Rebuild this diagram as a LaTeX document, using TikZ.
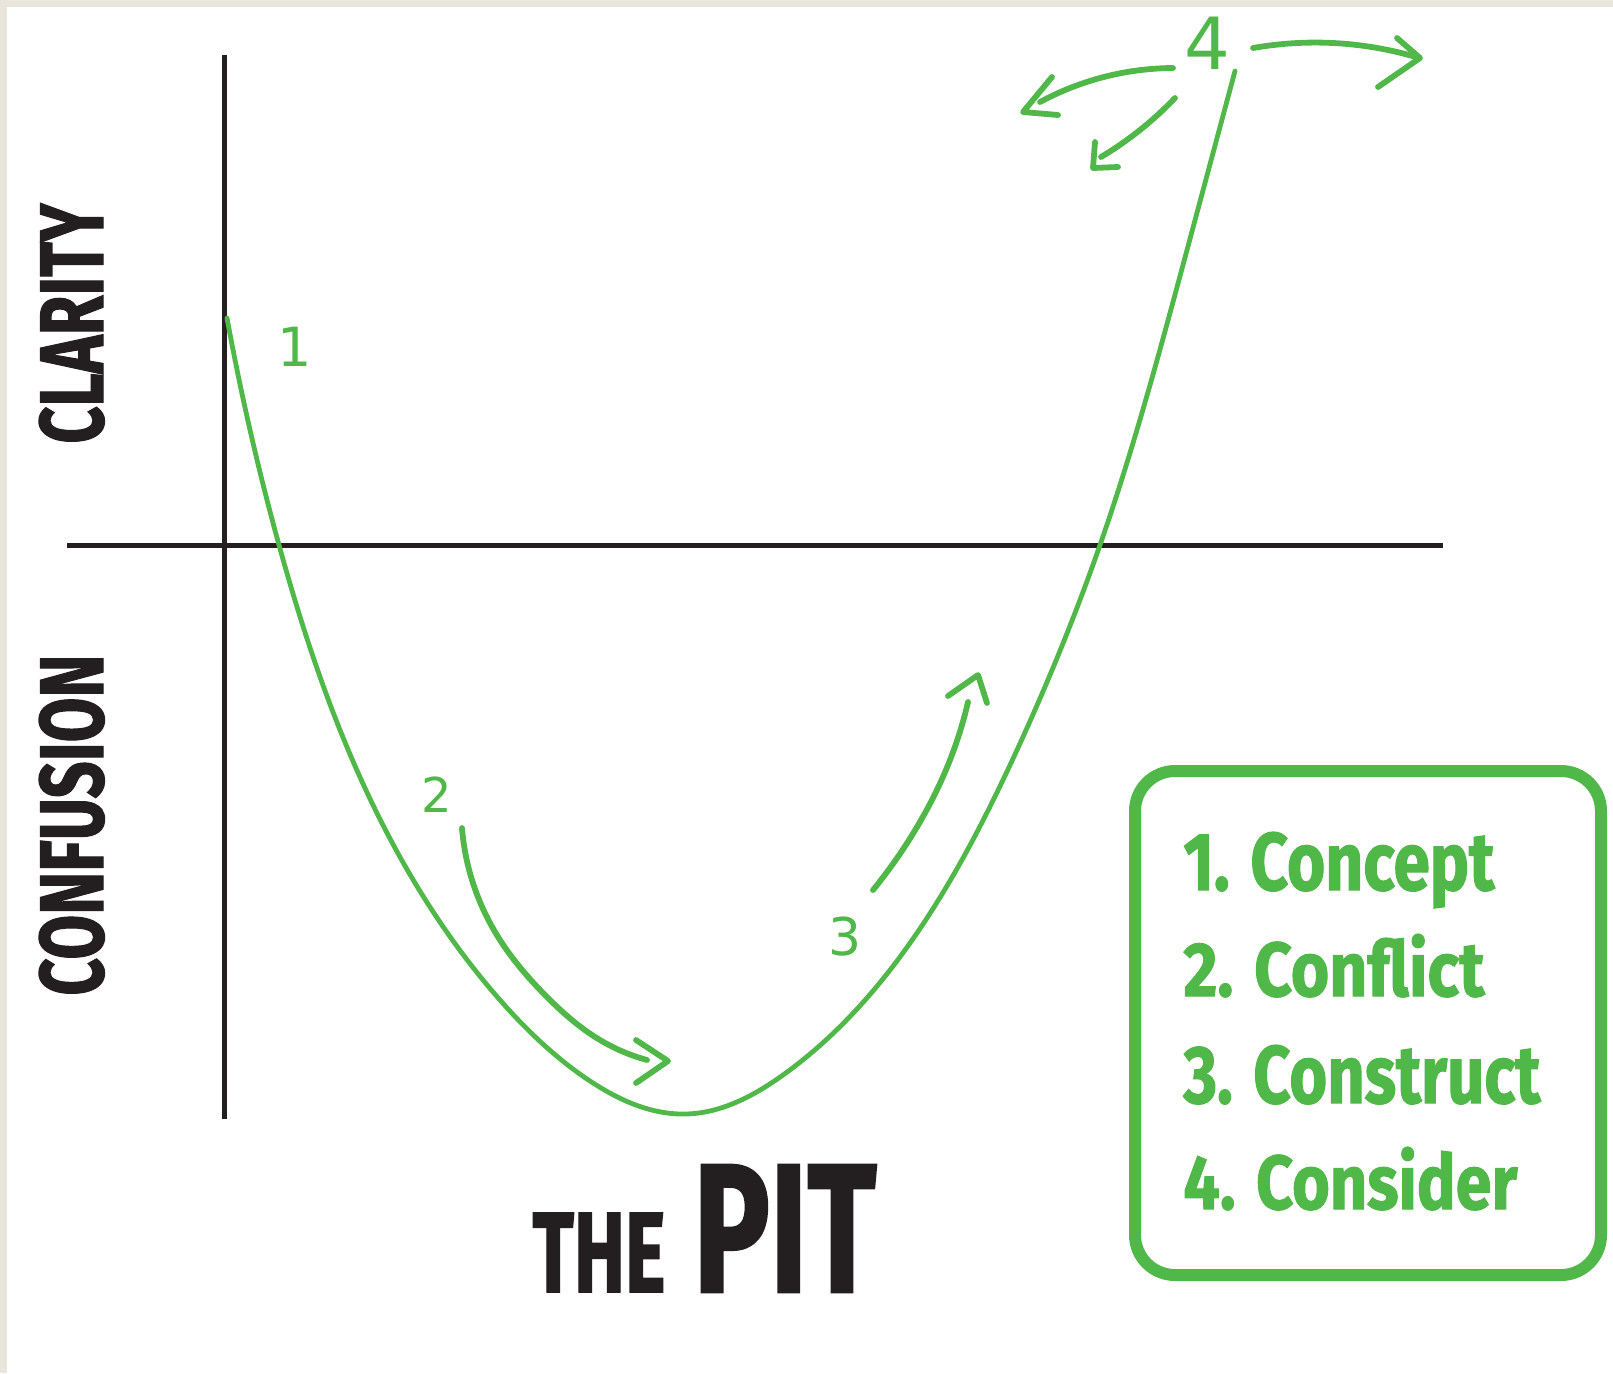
\documentclass[tikz,border=0pt]{standalone}
\usepackage{fontspec}
\usepackage{graphicx}
\usetikzlibrary{hobby}
\newfontfamily\heavyfont[FakeBold=1.5]{Fira Sans Bold}
\newfontfamily\handfont{DejaVu Sans}
\definecolor{pitgreen}{RGB}{80,184,72}
\definecolor{ink}{RGB}{35,31,32}
\definecolor{framebg}{RGB}{233,229,219}
\newcommand{\fitt}[3]{\resizebox{#1}{#2}{#3}}
\begin{document}
\begin{tikzpicture}[x=0.5pt,y=-0.5pt,
  axisline/.style={draw=ink,line width=2.5pt},
  pitcurve/.style={draw=pitgreen,line width=2.4pt,line cap=round},
  handline/.style={draw=pitgreen,line width=2.9pt,line cap=round,line join=round},
  axislabel/.style={text=ink,inner sep=0pt,font=\heavyfont},
  legendtext/.style={text=pitgreen,inner sep=0pt,anchor=base west,font=\heavyfont},
  handnum/.style={text=pitgreen,inner sep=0pt,font=\handfont}]
\useasboundingbox (0,0) rectangle (1613,1373);
\fill[framebg] (0,0) rectangle (1613,1373);
\fill[white] (7,7) rectangle (1613,1373);

% axes
\coordinate (vtop) at (224,55);
\coordinate (vbot) at (224,1119);
\coordinate (hleft) at (67,545);
\coordinate (hright) at (1443,545);
\draw[axisline] (vtop) -- (vbot);
\draw[axisline] (hleft) -- (hright);

% axis labels
\node[axislabel,rotate=90,anchor=base west] (clarity) at (103,444) {\fitt{120pt}{32pt}{CLARITY}};
\node[axislabel,rotate=90,anchor=base west] (confusion) at (103,996) {\fitt{170.5pt}{32pt}{CONFUSION}};
\node[axislabel,anchor=base west] (the) at (532,1292) {\fitt{66.5pt}{39.5pt}{THE}};
\node[axislabel,anchor=base west] (pit) at (693,1292) {\fitt{91.5pt}{63.5pt}{PIT}};

% the pit curve
\coordinate (cstart) at (227,318);
\coordinate (cend) at (1235,71);
\draw[pitcurve] (cstart) to[curve through={(279,545) (400,857) (500,1000) (590,1081) (686,1114) (783,1075) (917,933) (1017,750) (1100,545) (1187,250)}] (cend);

% handwritten numbers
\node[handnum,font=\handfont\fontsize{27}{27}\selectfont] (n1) at (295,347) {1};
\node[handnum,font=\handfont\fontsize{24}{24}\selectfont] (n2) at (437,795) {2};
\node[handnum,font=\handfont\fontsize{26}{26}\selectfont] (n3) at (845,937) {3};
\node[handnum,font=\handfont\fontsize{36}{36}\selectfont] (n4) at (1207,43) {4};

% arrow 2
\coordinate (a2s) at (462,828);
\coordinate (a2e) at (647,1060);
\draw[handline] (a2s) to[curve through={(472,880) (500,940) (545,995) (600,1040)}] (a2e);
\draw[handline] (636,1040) -- (668,1061) -- (636,1083);

% arrow 3
\coordinate (a3s) at (873,890);
\coordinate (a3e) at (968,702);
\draw[handline] (a3s) to[curve through={(917,827) (950,760)}] (a3e);
\draw[handline] (948,696) -- (978,675) -- (987,703);

% arrows around 4
\draw[handline] (1253,48) to[curve through={(1333,43)}] (1416,57);
\draw[handline] (1397,38) -- (1420,58) -- (1378,87);
\draw[handline] (1173,68) to[curve through={(1100,78)}] (1040,102);
\draw[handline] (1052,77) -- (1023,112) -- (1058,115);
\draw[handline] (1175,98) to[curve through={(1140,130)}] (1101,157);
\draw[handline] (1095,142) -- (1093,168) -- (1118,167);

% legend
\node[draw=pitgreen,line width=6pt,rounded corners=20pt,minimum width=233pt,minimum height=252pt,inner sep=0pt] (legend) at (1368,1023) {};
\node[legendtext] (l1) at (1183,890) {\fitt{155.5pt}{31pt}{\vphantom{Cdl}1. Concept}};
\node[legendtext] (l2) at (1183,996) {\fitt{150.5pt}{31pt}{\vphantom{Cdl}2. Conflict}};
\node[legendtext] (l3) at (1183,1103) {\fitt{178.5pt}{31pt}{\vphantom{Cdl}3. Construct}};
\node[legendtext] (l4) at (1183,1209) {\fitt{167pt}{31pt}{\vphantom{Cdl}4. Consider}};
\end{tikzpicture}
\end{document}
